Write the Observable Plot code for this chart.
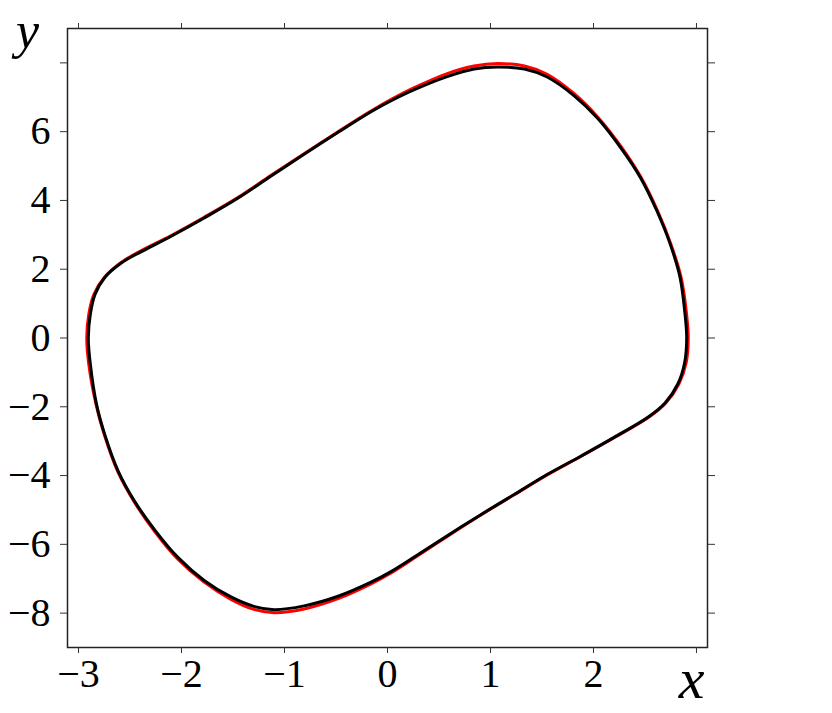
<!DOCTYPE html>
<html><head><meta charset="utf-8">
<script src="https://cdn.jsdelivr.net/npm/d3@7"></script>
<script src="https://cdn.jsdelivr.net/npm/@observablehq/plot@0.6"></script>
<style>body{margin:0;background:#fff;}</style>
</head><body><div id="chart"></div>
<script>
// Red curve (outer), points read around the loop starting at leftmost point
const redX = [-2.92,-2.90,-2.85,-2.75,-2.59,-2.39,-2.10,-1.78,-1.45,-1.13,-0.81,-0.48,-0.16,0.05,0.26,0.58,0.84,1.07,1.33,1.55,1.81,2.04,2.27,2.46,2.62,2.75,2.85,2.90,2.92,2.90,2.83,2.70,2.54,2.20,1.88,1.55,1.23,0.91,0.58,0.26,0.03,-0.16,-0.48,-0.81,-1.10,-1.29,-1.52,-1.78,-2.04,-2.26,-2.46,-2.62,-2.75,-2.83,-2.90];
const redY = [0.00,0.70,1.27,1.76,2.19,2.54,2.98,3.51,4.09,4.73,5.36,6.00,6.60,6.96,7.28,7.69,7.91,7.98,7.91,7.67,7.11,6.43,5.56,4.68,3.71,2.74,1.77,0.80,0.00,-0.72,-1.33,-1.90,-2.30,-2.90,-3.44,-3.98,-4.56,-5.14,-5.77,-6.40,-6.84,-7.15,-7.58,-7.88,-7.99,-7.90,-7.60,-7.10,-6.42,-5.63,-4.76,-3.88,-2.81,-1.93,-0.77];
// Black curve (inner)
const blackX = [-2.905,-2.885,-2.84,-2.745,-2.585,-2.385,-2.10,-1.78,-1.45,-1.13,-0.81,-0.48,-0.16,0.05,0.26,0.58,0.84,1.07,1.33,1.55,1.81,2.04,2.265,2.455,2.615,2.745,2.84,2.885,2.905,2.885,2.82,2.695,2.535,2.20,1.88,1.55,1.23,0.91,0.58,0.26,0.03,-0.16,-0.48,-0.81,-1.10,-1.29,-1.52,-1.78,-2.035,-2.255,-2.455,-2.615,-2.745,-2.825,-2.885];
const blackY = [0.00,0.70,1.27,1.76,2.18,2.52,2.96,3.49,4.07,4.71,5.34,5.98,6.58,6.92,7.22,7.60,7.82,7.88,7.82,7.59,7.05,6.39,5.53,4.67,3.70,2.73,1.77,0.80,0.00,-0.72,-1.33,-1.89,-2.29,-2.89,-3.43,-3.97,-4.55,-5.13,-5.75,-6.37,-6.80,-7.10,-7.51,-7.79,-7.90,-7.81,-7.53,-7.05,-6.38,-5.60,-4.75,-3.87,-2.81,-1.93,-0.77];

const xTicks = [-3,-2,-1,0,1,2,3];
const xTickLabels = ["\u22123","\u22122","\u22121","0","1","2",""];
const yTicks = [-8,-6,-4,-2,0,2,4,6,8];
const yTickLabels = ["\u22128","\u22126","\u22124","\u22122","0","2","4","6",""];

const red = redX.map((x, i) => ({x, y: redY[i]}));
const black = blackX.map((x, i) => ({x, y: blackY[i]}));

const fmtX = d => xTickLabels[xTicks.indexOf(d)];
const fmtY = d => yTickLabels[yTicks.indexOf(d)];
const blank = () => "";
const serif = "'Liberation Serif', 'DejaVu Serif', serif";

const chart = Plot.plot({
  width: 832,
  height: 713,
  marginLeft: 67,
  marginRight: 125,
  marginTop: 28,
  marginBottom: 66,
  x: {domain: [-3.107, 3.107]},
  y: {domain: [-9, 9]},
  style: {fontFamily: serif, background: "white", color: "black"},
  marks: [
    Plot.line(red, {x: "x", y: "y", stroke: "#ff0000", strokeWidth: 3, curve: "catmull-rom-closed"}),
    Plot.line(black, {x: "x", y: "y", stroke: "#000000", strokeWidth: 3, curve: "catmull-rom-closed"}),
    Plot.frame({stroke: "#222", strokeWidth: 1.5}),
    Plot.axisX({anchor: "bottom", ticks: xTicks, tickFormat: fmtX, tickSize: 6, tickPadding: 5, fontSize: 40, fontFamily: serif, label: null, stroke: "#333", fill: "black"}),
    Plot.axisX({anchor: "top", ticks: xTicks, tickFormat: blank, tickSize: 6, label: null, stroke: "#333"}),
    Plot.axisY({anchor: "left", ticks: yTicks, tickFormat: fmtY, tickSize: 7, tickPadding: 10, fontSize: 40, fontFamily: serif, label: null, stroke: "#333", fill: "black"}),
    Plot.axisY({anchor: "right", ticks: yTicks, tickFormat: blank, tickSize: 7, label: null, stroke: "#333"}),
    Plot.text(["y"], {frameAnchor: "top-left", dx: -40, dy: 19, text: d => d, fontSize: 52, fontStyle: "italic", fontFamily: serif, textAnchor: "middle", lineAnchor: "bottom", fill: "black"}),
    Plot.text(["x"], {frameAnchor: "bottom-right", dx: -16, dy: 50, text: d => d, fontSize: 58, fontStyle: "italic", fontFamily: serif, textAnchor: "middle", lineAnchor: "bottom", fill: "black"})
  ]
});
document.getElementById("chart").appendChild(chart);
</script>
</body></html>
